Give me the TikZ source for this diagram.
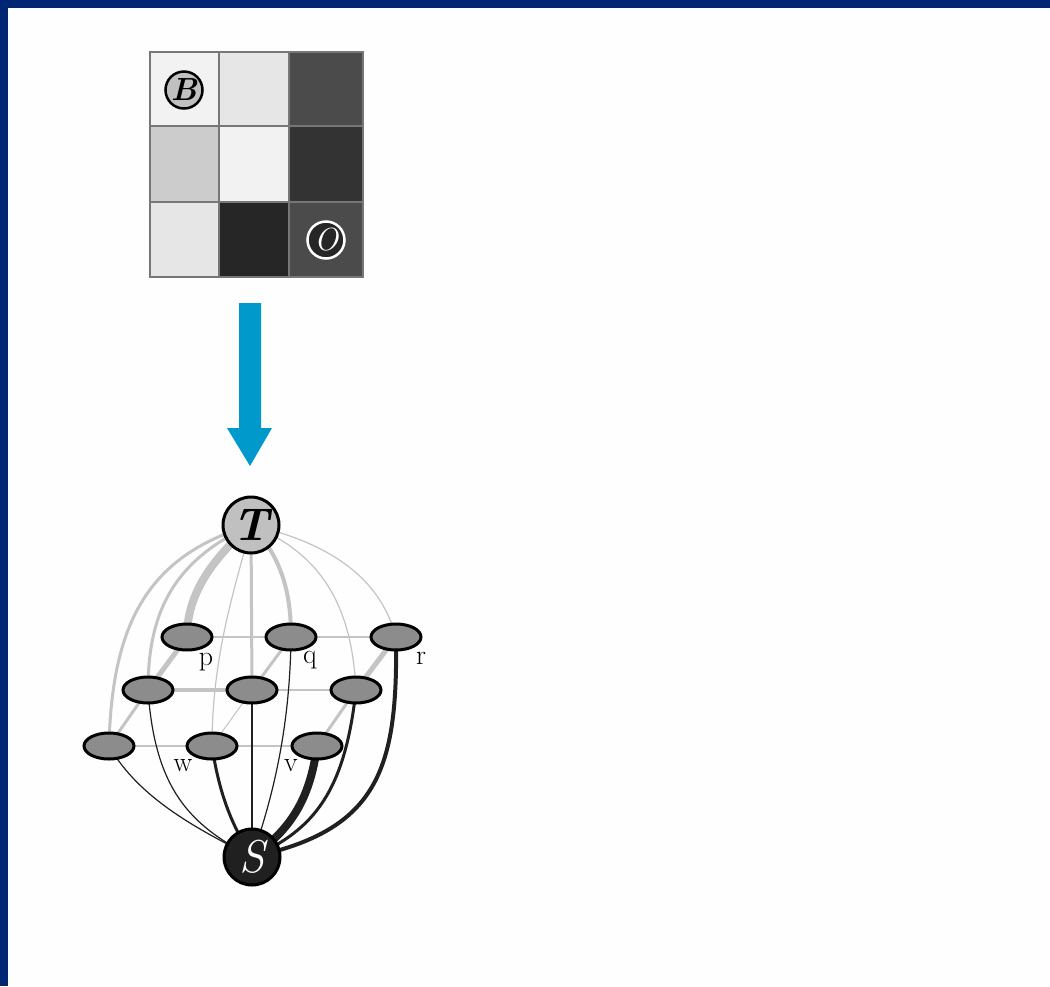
\documentclass[tikz,border=0pt]{standalone}
\usetikzlibrary{shapes.geometric}
\definecolor{frameblue}{HTML}{002673}
\definecolor{bgwhite}{HTML}{FEFEFE}
\definecolor{lgr}{HTML}{C4C4C4}
\definecolor{mgr}{HTML}{8C8C8C}
\definecolor{dk}{HTML}{202020}
\definecolor{arrowblue}{HTML}{0099CC}
\definecolor{cA}{HTML}{F2F2F2}
\definecolor{cB}{HTML}{E6E6E6}
\definecolor{cC}{HTML}{4B4B4B}
\definecolor{cD}{HTML}{CCCCCC}
\definecolor{cE}{HTML}{333333}
\definecolor{cF}{HTML}{262626}
\definecolor{gridline}{HTML}{777777}
\definecolor{circB}{HTML}{C0C0C0}
\begin{document}
\begin{tikzpicture}[x=1pt,y=-1pt,
  tlink/.style={draw=lgr,line cap=round},
  slink/.style={draw=dk,line cap=round},
  nlink/.style={draw=lgr,line cap=round},
  pixnode/.style={ellipse,draw=black,line width=3pt,fill=mgr,minimum width=50pt,minimum height=26pt,inner sep=0pt},
  bigcirc/.style={circle,draw=black,line width=3pt,minimum size=56pt,inner sep=0pt},
  smallcirc/.style={circle,line width=2.5pt,minimum size=37pt,inner sep=0pt},
  lbl/.style={inner sep=0pt,font=\fontsize{28}{28}\selectfont},
  cell/.style={draw=gridline,line width=1.2pt}
]
\useasboundingbox (0,0) rectangle (1050,986);
\fill[bgwhite] (0,0) rectangle (1050,986);
\fill[frameblue] (0,0) rectangle (1050,8);
\fill[frameblue] (0,0) rectangle (8,986);

% grid of pixels
\filldraw[cell,fill=cA] (150,52) rectangle (219,126);
\filldraw[cell,fill=cB] (219,52) rectangle (289,126);
\filldraw[cell,fill=cC] (289,52) rectangle (363,126);
\filldraw[cell,fill=cD] (150,126) rectangle (219,202);
\filldraw[cell,fill=cA] (219,126) rectangle (289,202);
\filldraw[cell,fill=cE] (289,126) rectangle (363,202);
\filldraw[cell,fill=cB] (150,202) rectangle (219,277);
\filldraw[cell,fill=cF] (219,202) rectangle (289,277);
\filldraw[cell,fill=cC] (289,202) rectangle (363,277);
\node[smallcirc,draw=black,fill=circB,font=\fontsize{32}{32}\selectfont\bfseries\itshape] (bnode) at (184,90) {B};
\node[smallcirc,draw=white,fill=cF,text=white,font=\fontsize{32}{32}\selectfont\itshape] (onode) at (326,240) {O};

% arrow
\fill[arrowblue] (239,303) -- (261,303) -- (261,428) -- (272,428) -- (250,466) -- (227,428) -- (239,428) -- cycle;

% graph node positions
\coordinate (Tc) at (251,525);
\coordinate (Sc) at (252,857);
\coordinate (pc) at (187,637);
\coordinate (qc) at (291,637);
\coordinate (rc) at (396,637);
\coordinate (m1c) at (148,690);
\coordinate (m2c) at (252,690);
\coordinate (m3c) at (356,690);
\coordinate (l1c) at (109,746);
\coordinate (wc) at (212,746);
\coordinate (vc) at (317,746);

% n-links
\draw[nlink,line width=1.5pt] (pc) -- (qc);
\draw[nlink,line width=1.5pt] (qc) -- (rc);
\draw[nlink,line width=4pt] (m1c) -- (m2c);
\draw[nlink,line width=1.5pt] (m2c) -- (m3c);
\draw[nlink,line width=1.5pt] (l1c) -- (wc);
\draw[nlink,line width=1.5pt] (wc) -- (vc);
\draw[nlink,line width=5pt] (pc) -- (m1c);
\draw[nlink,line width=3pt] (qc) -- (m2c);
\draw[nlink,line width=5pt] (rc) -- (m3c);
\draw[nlink,line width=3pt] (m1c) -- (l1c);
\draw[nlink,line width=1pt] (m2c) -- (wc);
\draw[nlink,line width=3pt] (m3c) -- (vc);

% T-links
\draw[tlink,line width=3pt] (Tc) .. controls (150,555) and (112,620) .. (l1c);
\draw[tlink,line width=3pt] (Tc) .. controls (175,560) and (148,610) .. (m1c);
\draw[tlink,line width=8pt] (Tc) .. controls (205,565) and (187,600) .. (pc);
\draw[tlink,line width=1.2pt] (Tc) .. controls (238,580) and (212,650) .. (wc);
\draw[tlink,line width=3pt] (Tc) -- (m2c);
\draw[tlink,line width=4pt] (Tc) .. controls (285,560) and (291,600) .. (qc);
\draw[tlink,line width=1.2pt] (Tc) .. controls (325,555) and (352,610) .. (m3c);
\draw[tlink,line width=1.2pt] (Tc) .. controls (340,545) and (382,585) .. (rc);

% S-links
\draw[slink,line width=1.2pt] (l1c) .. controls (140,800) and (200,830) .. (Sc);
\draw[slink,line width=1.2pt] (m1c) .. controls (155,790) and (190,825) .. (Sc);
\draw[slink,line width=3pt] (wc) .. controls (220,800) and (235,830) .. (Sc);
\draw[slink,line width=1.2pt] (m2c) -- (Sc);
\draw[slink,line width=1.2pt] (qc) .. controls (290,730) and (272,800) .. (Sc);
\draw[slink,line width=8pt] (vc) .. controls (310,800) and (290,830) .. (Sc);
\draw[slink,line width=3pt] (m3c) .. controls (345,790) and (315,830) .. (Sc);
\draw[slink,line width=4pt] (rc) .. controls (398,770) and (378,830) .. (Sc);

% nodes
\node[bigcirc,fill=circB,font=\fontsize{46}{46}\selectfont\bfseries\itshape] (T) at (Tc) {T};
\node[bigcirc,fill=dk,text=white,font=\fontsize{46}{46}\selectfont\itshape] (S) at (Sc) {S};
\node[pixnode] (p) at (pc) {};
\node[pixnode] (q) at (qc) {};
\node[pixnode] (r) at (rc) {};
\node[pixnode] (m1) at (m1c) {};
\node[pixnode] (m2) at (m2c) {};
\node[pixnode] (m3) at (m3c) {};
\node[pixnode] (l1) at (l1c) {};
\node[pixnode] (w) at (wc) {};
\node[pixnode] (v) at (vc) {};

% labels
\node[lbl] (plbl) at (206,662) {p};
\node[lbl] (qlbl) at (310,660) {q};
\node[lbl] (rlbl) at (421,658) {r};
\node[lbl] (wlbl) at (183,766) {w};
\node[lbl] (vlbl) at (291,766) {v};
\end{tikzpicture}
\end{document}
